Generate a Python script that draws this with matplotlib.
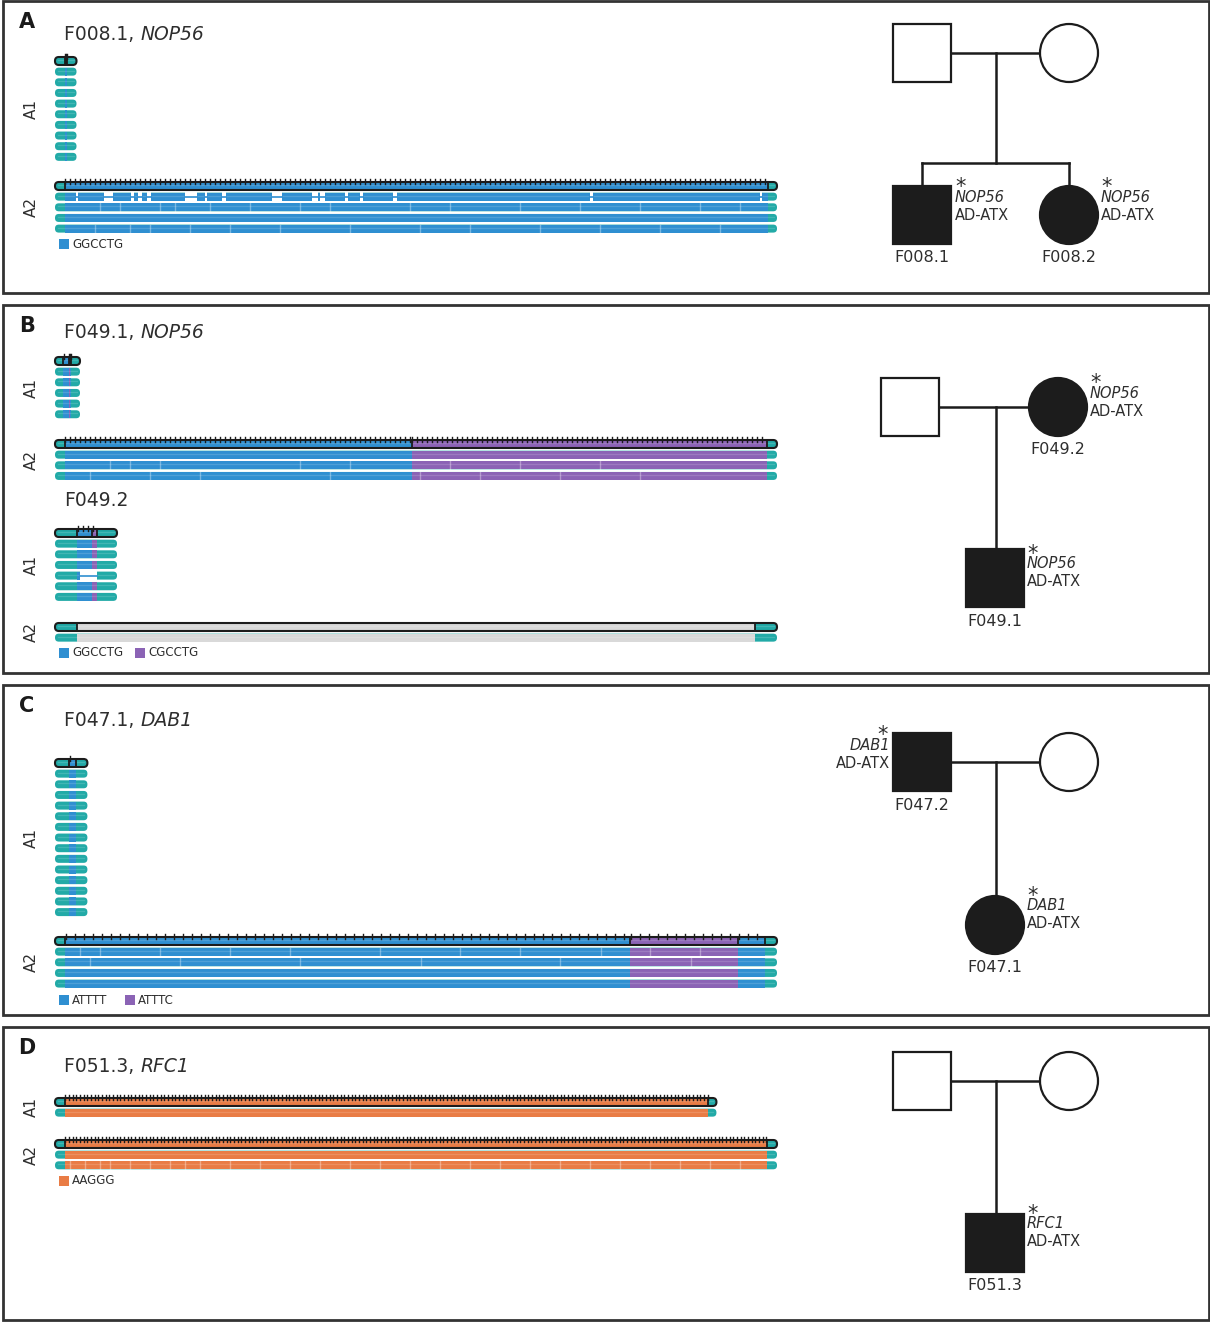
import matplotlib.pyplot as plt
from matplotlib.patches import FancyBboxPatch, Rectangle, Circle

# ---------------------------------------------------------------
# repeat structure of each allele: (motif, number of units)
# "flank" = flanking sequence, "unresolved" = spanning but not resolved
# ---------------------------------------------------------------
F0081_A1 = [("flank", 19), ("GGCCTG", 2), ("CGCCTG", 1), ("GGCCTG", 2), ("flank", 19)]
F0081_A2 = [("flank", 19), ("GGCCTG", 1406), ("flank", 19)]

F0491_A1 = [("flank", 16), ("GGCCTG", 12), ("CGCCTG", 2), ("GGCCTG", 2), ("flank", 18)]
F0491_A2 = [("flank", 19), ("GGCCTG", 694), ("CGCCTG", 710), ("flank", 21)]

F0492_A1 = [("flank", 44), ("GGCCTG", 30), ("CGCCTG", 9), ("flank", 41)]
F0492_A2 = [("flank", 44), ("unresolved", 1356), ("flank", 44)]

F0471_A1 = [("flank", 16), ("ATTTT", 7), ("flank", 13)]
F0471_A2 = [("flank", 11), ("ATTTT", 628), ("ATTTC", 120), ("ATTTT", 30), ("flank", 13)]

F0513_A1 = [("flank", 27), ("AAGGG", 1753), ("flank", 22)]
F0513_A2 = [("flank", 27), ("AAGGG", 1913), ("flank", 27)]

# number of reads under each consensus
READS = {"F0081_A1": 9, "F0081_A2": 4, "F0491_A1": 5, "F0491_A2": 3,
         "F0492_A1": 6, "F0492_A2": 1, "F0471_A1": 14, "F0471_A2": 4,
         "F0513_A1": 1, "F0513_A2": 2}

# deleted stretches inside single reads (units from read start)
F0081_A2_READ1_GAPS = [(42, 46), (98, 116), (152, 158), (166, 174), (184, 192),
                       (260, 284), (300, 304), (334, 342), (434, 454), (514, 526),
                       (530, 540), (580, 586), (610, 616), (676, 684), (1070, 1076),
                       (1410, 1414)]
F0492_A1_READ4_GAPS = [(50, 84)]

# single-unit mismatches shown as pale streaks (units from read start)
STREAKS = {
    "F0081_A2": {2: [90, 130, 210, 240, 310, 390, 490, 550, 710, 790, 930, 1050,
                     1170, 1290, 1370],
                 4: [80, 150, 190, 270, 350, 450, 590, 730, 830, 970, 1090, 1210,
                     1330]},
    "F0491_A2": {2: [110, 150, 210, 490, 590, 790, 930, 1090],
                 3: [70, 190, 290, 550, 730, 850, 1010, 1170]},
    "F0471_A2": {1: [28, 50, 117, 194, 261, 361, 450, 517, 606, 661, 717],
                 2: [39, 139, 272, 406, 561, 706]},
    "F0513_A2": {2: [41, 82, 123, 150, 204, 259, 313, 354, 395, 477, 559, 640,
                     722, 804, 886, 967, 1049, 1131, 1213, 1294, 1376, 1458,
                     1540, 1621, 1703, 1785, 1866]},
}

MOTIF_COLORS = {"flank": "#22aaa7", "GGCCTG": "#2f8fd1", "CGCCTG": "#8b63b5",
                "ATTTT": "#2f8fd1", "ATTTC": "#8b63b5", "AAGGG": "#e97c45",
                "unresolved": "#d9d9d9"}

TEXT = "#2e2e2e"
LINE = "#1c1c1c"

W, H = 1210, 1322
fig = plt.figure(figsize=(W / 100, H / 100), dpi=100)
ax = fig.add_axes([0, 0, 1, 1])
ax.set_xlim(0, W)
ax.set_ylim(H, 0)
ax.axis("off")

TRACK_X0 = 55
TRACK_W = 722
ROW_H = 8
PITCH = 10.65


def draw_read(x0, yc, segs, scale, consensus=False, gaps=(), streaks=()):
    total = sum(n for _, n in segs)
    w = total * scale
    top = yc - ROW_H / 2
    ax.add_patch(FancyBboxPatch((x0, top), w, ROW_H,
                                boxstyle="round,pad=0,rounding_size=3.8",
                                fc=MOTIF_COLORS["flank"], ec="none", zorder=2))
    pos = 0
    bounds = []
    for motif, n in segs:
        if motif != "flank":
            ax.add_patch(Rectangle((x0 + pos * scale, top), n * scale, ROW_H,
                                   fc=MOTIF_COLORS[motif], ec="none", zorder=3))
        pos += n
        bounds.append(pos)
    for u in streaks:
        ax.plot([x0 + u * scale] * 2, [top, top + ROW_H], color="white",
                alpha=0.35, lw=1.0, zorder=4)
    for g0, g1 in gaps:
        ax.add_patch(Rectangle((x0 + g0 * scale, top - 0.5), (g1 - g0) * scale,
                               ROW_H + 1, fc="white", ec="none", zorder=4))
        ax.plot([x0 + g0 * scale, x0 + g1 * scale], [yc, yc],
                color=MOTIF_COLORS["GGCCTG"], lw=1.2, zorder=5)
    # pale line along the read
    ax.plot([x0 + 3, x0 + w - 3], [yc - 1, yc - 1], color="white",
            alpha=0.15, lw=0.9, zorder=4)
    if consensus:
        ax.add_patch(FancyBboxPatch((x0, top), w, ROW_H,
                                    boxstyle="round,pad=0,rounding_size=3.8",
                                    fc="none", ec=LINE, lw=1.5, zorder=6))
        for b in bounds[:-1]:
            ax.plot([x0 + b * scale] * 2, [top, top + ROW_H], color=LINE,
                    lw=1.3, zorder=6)
        pos = 0
        for motif, n in segs:
            if motif not in ("flank", "unresolved"):
                k = 0
                while k < n:
                    xt = x0 + (pos + k + 1) * scale
                    ax.plot([xt, xt], [top - 3, top + 1.5], color=LINE,
                            lw=1.0, zorder=6)
                    k += 10
            pos += n
    return w


def draw_allele(name, segs, y_first, scale, label, gaps_by_read=None):
    gaps_by_read = gaps_by_read or {}
    streaks = STREAKS.get(name, {})
    n = READS[name]
    draw_read(TRACK_X0, y_first, segs, scale, consensus=True)
    for i in range(1, n + 1):
        draw_read(TRACK_X0, y_first + i * PITCH, segs, scale,
                  gaps=gaps_by_read.get(i, ()), streaks=streaks.get(i, ()))
    ymid = y_first + n * PITCH / 2
    ax.text(31, ymid, label, rotation=90, ha="center", va="center",
            fontsize=11, color=TEXT)


def legend(y, motifs, xs):
    for m, x in zip(motifs, xs):
        ax.add_patch(Rectangle((x, y - 5), 10, 10, fc=MOTIF_COLORS[m], ec="none"))
        ax.text(x + 13, y, m, ha="left", va="center", fontsize=8.5, color=TEXT)


def scale_for(*alleles):
    return TRACK_W / max(sum(n for _, n in a) for a in alleles)


def title(y, sample, gene=None):
    t = ax.text(64, y, sample + (", " if gene else ""), ha="left",
                va="center", fontsize=13.5, color=TEXT)
    if gene:
        ax.annotate(gene, xy=(1, 0.5), xycoords=t, ha="left", va="center",
                    fontsize=13.5, color=TEXT, style="italic")


# ---------------- panel frames and letters ----------------
for (y0, y1), letter in zip([(1, 293), (305, 673), (685, 1015), (1027, 1320)], "ABCD"):
    ax.add_patch(Rectangle((3, y0), 1206, y1 - y0, fc="none", ec="#333333", lw=2))
    ax.text(27, y0 + 21, letter, ha="center", va="center", fontsize=15,
            fontweight="bold", color="#1a1a1a")

# ---------------- read tracks ----------------
s = scale_for(F0081_A1, F0081_A2)
title(35, "F008.1", "NOP56")
draw_allele("F0081_A1", F0081_A1, 61, s, "A1")
draw_allele("F0081_A2", F0081_A2, 186, s, "A2", {1: F0081_A2_READ1_GAPS})
legend(244, ["GGCCTG"], [59])

s = scale_for(F0491_A1, F0491_A2)
title(333, "F049.1", "NOP56")
draw_allele("F0491_A1", F0491_A1, 361, s, "A1")
draw_allele("F0491_A2", F0491_A2, 444, s, "A2")
s = scale_for(F0492_A1, F0492_A2)
title(500, "F049.2")
draw_allele("F0492_A1", F0492_A1, 533, s, "A1", {4: F0492_A1_READ4_GAPS})
draw_allele("F0492_A2", F0492_A2, 627, s, "A2")
legend(653, ["GGCCTG", "CGCCTG"], [59, 135])

s = scale_for(F0471_A1, F0471_A2)
title(720, "F047.1", "DAB1")
draw_allele("F0471_A1", F0471_A1, 763, s, "A1")
draw_allele("F0471_A2", F0471_A2, 941, s, "A2")
legend(1000, ["ATTTT", "ATTTC"], [59, 125])

s = scale_for(F0513_A1, F0513_A2)
title(1066, "F051.3", "RFC1")
draw_allele("F0513_A1", F0513_A1, 1102, s, "A1")
draw_allele("F0513_A2", F0513_A2, 1144, s, "A2")
legend(1181, ["AAGGG"], [59])

# ---------------- pedigrees ----------------
SIDE = 58
R = 29


def square(cx, cy, filled):
    ax.add_patch(Rectangle((cx - SIDE / 2, cy - SIDE / 2), SIDE, SIDE,
                           fc=LINE if filled else "white", ec=LINE, lw=1.6, zorder=3))


def circle(cx, cy, filled):
    ax.add_patch(Circle((cx, cy), R, fc=LINE if filled else "white", ec=LINE,
                        lw=1.6, zorder=3))


def line(xs, ys):
    ax.plot(xs, ys, color=LINE, lw=1.8, zorder=2)


def carrier(x, y, gene, ha="left"):
    sx = x + 6 if ha == "left" else x - 7
    ax.text(sx, y - 4, "*", ha="center", va="baseline", fontsize=15, color=TEXT)
    ax.text(x, y, gene, ha=ha, va="center", fontsize=10.5, color=TEXT,
            style="italic")
    ax.text(x, y + 18, "AD-ATX", ha=ha, va="center", fontsize=10.5, color=TEXT)


def ident(x, y, name):
    ax.text(x, y, name, ha="center", va="center", fontsize=11.5, color=TEXT)


# A: F008
line([951, 1040], [53, 53])
line([996, 996], [53, 163])
line([922, 1069], [163, 163])
line([922, 922], [163, 186])
line([1069, 1069], [163, 186])
square(922, 53, False)
circle(1069, 53, False)
square(922, 215, True)
circle(1069, 215, True)
carrier(955, 197, "NOP56")
carrier(1101, 197, "NOP56")
ident(922, 257, "F008.1")
ident(1069, 257, "F008.2")

# B: F049
line([939, 1029], [407, 407])
line([996, 996], [407, 549])
square(910, 407, False)
circle(1058, 407, True)
square(995, 578, True)
carrier(1090, 393, "NOP56")
carrier(1027, 564, "NOP56")
ident(1058, 450, "F049.2")
ident(995, 621, "F049.1")

# C: F047
line([951, 1040], [762, 762])
line([996, 996], [762, 896])
square(922, 762, True)
circle(1069, 762, False)
circle(995, 925, True)
carrier(890, 745, "DAB1", ha="right")
carrier(1027, 906, "DAB1")
ident(922, 805, "F047.2")
ident(995, 967, "F047.1")

# D: F051
line([951, 1040], [1081, 1081])
line([996, 996], [1081, 1214])
square(922, 1081, False)
circle(1069, 1081, False)
square(995, 1243, True)
carrier(1027, 1224, "RFC1")
ident(995, 1285, "F051.3")

fig.savefig("out.png", dpi=100)
